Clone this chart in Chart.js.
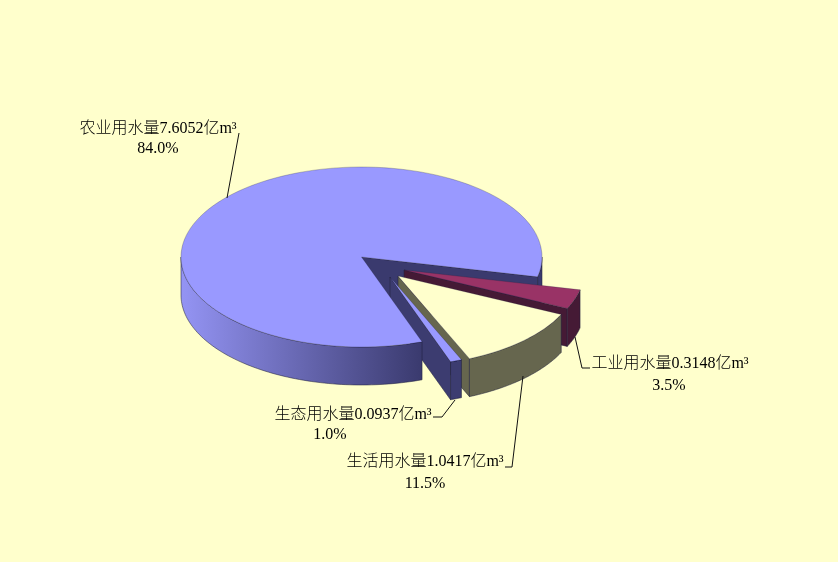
<!DOCTYPE html>
<html>
<head>
<meta charset="utf-8">
<title>用水量</title>
<style>
html,body{margin:0;padding:0;background:#ffffcc;overflow:hidden;}
#wrap{width:838px;height:562px;}
</style>
<script src="https://cdn.jsdelivr.net/npm/chart.js@4/dist/chart.umd.min.js"></script>
</head>
<body>
<div id="wrap"><canvas id="pieChart"></canvas></div>
<script>
// data
const categories = ["农业用水量","工业用水量","生活用水量","生态用水量"];
const values = [7.6052,0.3148,1.0417,0.0937];
const percents = ["84.0%","3.5%","11.5%","1.0%"];

// look of each slice
const topColors = ["#9999ff","#993366","#ffffcc","#9999ff"];
const wallColors = ["#3a3a6e","#451a35","#66664e","#3c3c70"];
const explode = [[0,0],[42.5,13],[36.5,19],[28.5,20]];

// label layout: text anchor rows and the leader line
const labelPos = [
  {x:158,y:128.5,x2:158,y2:149,line:[[239,133],[227,198]]},
  {x:670,y:364,x2:669,y2:386,line:[[575,337],[582,368],[590,368]]},
  {x:425,y:461.5,x2:425,y2:484,line:[[523,376],[512,467],[505,467]]},
  {x:353,y:414.5,x2:330,y2:435,line:[[455,400],[442,417],[433,417]]}
];

const squash = 0.4986;
const depth = 38;
const edgeColor = "rgba(30,30,60,.75)";

function pt(arc,i,angle,r,down){
  return [arc.x+explode[i][0]+r*Math.cos(angle), arc.y+explode[i][1]+r*squash*Math.sin(angle)+(down||0)];
}

// flat wall going from the centre out along one cut edge
function cutWall(ctx,arc,i,angle,color){
  const a=pt(arc,i,angle,0), b=pt(arc,i,angle,arc.outerRadius);
  ctx.beginPath();
  ctx.moveTo(a[0],a[1]);
  ctx.lineTo(b[0],b[1]);
  ctx.lineTo(b[0],b[1]+depth);
  ctx.lineTo(a[0],a[1]+depth);
  ctx.closePath();
  ctx.fillStyle=color;
  ctx.fill();
  ctx.strokeStyle=edgeColor;
  ctx.lineWidth=.7;
  ctx.stroke();
}

// curved outer wall between two angles
function outerWall(ctx,arc,i,a0,a1,fill){
  const r=arc.outerRadius, steps=80;
  ctx.beginPath();
  for(let k=0;k<=steps;k++){
    const p=pt(arc,i,a0+(a1-a0)*k/steps,r);
    k?ctx.lineTo(p[0],p[1]):ctx.moveTo(p[0],p[1]);
  }
  for(let k=steps;k>=0;k--){
    const p=pt(arc,i,a0+(a1-a0)*k/steps,r,depth);
    ctx.lineTo(p[0],p[1]);
  }
  ctx.closePath();
  ctx.fillStyle=fill;
  ctx.fill();
  ctx.strokeStyle=edgeColor;
  ctx.lineWidth=.7;
  ctx.stroke();
}

// top face is drawn by the arc element itself, only flattened and moved
function topFace(ctx,arc,i){
  ctx.save();
  ctx.translate(arc.x+explode[i][0],arc.y+explode[i][1]);
  ctx.scale(1,squash);
  ctx.translate(-arc.x,-arc.y);
  arc.draw(ctx);
  ctx.restore();
  ctx.beginPath();
  const steps=120;
  const c=pt(arc,i,0,0);
  ctx.moveTo(c[0],c[1]);
  for(let k=0;k<=steps;k++){
    const p=pt(arc,i,arc.startAngle+(arc.endAngle-arc.startAngle)*k/steps,arc.outerRadius);
    ctx.lineTo(p[0],p[1]);
  }
  ctx.closePath();
  ctx.strokeStyle="rgba(30,30,60,.5)";
  ctx.lineWidth=.5;
  ctx.stroke();
}

const pie3d = {
  id:"pie3d",
  beforeDatasetsDraw(chart){
    const ctx=chart.ctx;
    const arcs=chart.getDatasetMeta(0).data;
    const main=arcs[0];
    ctx.save();
    // back part first, front-most slice last
    outerWall(ctx,main,0,0,main.endAngle-2*Math.PI,wallColors[0]);
    cutWall(ctx,main,0,main.endAngle,wallColors[0]);
    [1,2,3].forEach(i=>{
      const a=arcs[i];
      cutWall(ctx,a,i,a.endAngle,wallColors[i]);
      outerWall(ctx,a,i,a.startAngle,a.endAngle,wallColors[i]);
      topFace(ctx,a,i);
    });
    const left=main.x-main.outerRadius;
    const grad=ctx.createLinearGradient(left,0,pt(main,0,main.startAngle,main.outerRadius)[0],0);
    grad.addColorStop(0,"#9494f4");
    grad.addColorStop(1,wallColors[0]);
    outerWall(ctx,main,0,main.startAngle,Math.PI,grad);
    topFace(ctx,main,0);
    ctx.restore();
    return false;
  },
  afterDraw(chart){
    const ctx=chart.ctx;
    ctx.save();
    ctx.strokeStyle="#111";
    ctx.lineWidth=1;
    ctx.fillStyle="#000";
    ctx.textAlign="center";
    ctx.textBaseline="middle";
    categories.forEach((name,i)=>{
      const l=labelPos[i];
      ctx.beginPath();
      l.line.forEach((p,k)=>k?ctx.lineTo(p[0],p[1]):ctx.moveTo(p[0],p[1]));
      ctx.stroke();
      ctx.font="300 16px 'Liberation Serif','Noto Sans CJK SC'";
      ctx.fillText(name+values[i].toFixed(4)+"亿m³",l.x,l.y);
      ctx.fillText(percents[i],l.x2,l.y2);
    });
    ctx.restore();
  }
};

new Chart(document.getElementById("pieChart"),{
  type:"pie",
  data:{
    labels:categories,
    datasets:[{
      data:values,
      backgroundColor:topColors,
      borderWidth:0
    }]
  },
  options:{
    responsive:true,
    maintainAspectRatio:false,
    animation:false,
    rotation:160.4,
    layout:{padding:{left:181,right:296,top:76.5,bottom:124.5}},
    plugins:{
      legend:{display:false},
      tooltip:{enabled:false}
    }
  },
  plugins:[pie3d]
});
</script>
</body>
</html>
